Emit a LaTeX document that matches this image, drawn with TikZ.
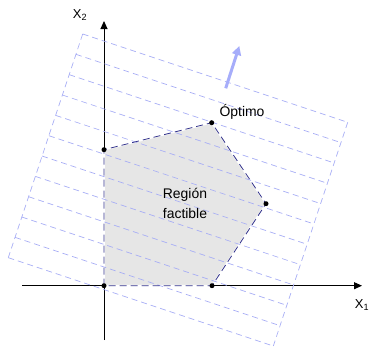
\documentclass[tikz,border=0pt]{standalone}
\usepackage{fontspec}
\setmainfont{Liberation Sans}
\usetikzlibrary{arrows.meta,positioning,calc}
\definecolor{EdgeBlue}{RGB}{51, 51, 140}
\definecolor{LevelBlue}{RGB}{168, 174, 245}
\definecolor{GainBlue}{RGB}{166, 173, 250}
\definecolor{RegionGray}{RGB}{230, 230, 230}

\begin{document}
\begin{tikzpicture}[
    x=1bp, y=-1bp,
    axis/.style={line width=1bp, -{Triangle[length=8bp, width=7bp]}},
    region/.style={fill=RegionGray, draw=white, line width=1.6bp},
    border/.style={draw=EdgeBlue, line width=0.8bp, dash pattern=on 7bp off 4bp},
    levelline/.style={draw=LevelBlue, line width=0.7bp, dash pattern=on 6bp off 4bp},
    vertex/.style={circle, fill=black, inner sep=0pt, minimum size=5bp},
    gain/.style={draw=GainBlue, line width=3bp, -{Triangle[length=9bp, width=9bp]}},
    lbl/.style={font=\fontsize{14}{20}\selectfont, inner sep=0pt, align=center}
  ]
    \useasboundingbox (0,0) rectangle (373,347);

    % axes
    \coordinate (xstart) at (22,285.7);
    \coordinate (xend) at (362,285.7);
    \coordinate (ystart) at (104,340);
    \coordinate (yend) at (104,21);
    \draw[axis] (xstart) -- (xend);
    \draw[axis] (ystart) -- (yend);

    % feasible region
    \coordinate (p1) at (104,285.7);
    \coordinate (p2) at (104,149.7);
    \coordinate (p3) at (211.7,122.7);
    \coordinate (p4) at (266,203.7);
    \coordinate (p5) at (212,285.7);
    \path[region] (p1) -- (p2) -- (p3) -- (p4) -- (p5) -- cycle;

    % level lines of the objective
    \coordinate (tl) at (82.7,34);
    \coordinate (tr) at (347.7,122.3);
    \coordinate (bl) at (8.3,257.7);
    \coordinate (br) at (273.3,346);
    \foreach \i in {0,...,11}
      \draw[levelline] ($(tl)!\i/11!(bl)$) -- ($(tr)!\i/11!(br)$);
    \draw[levelline] (tl) -- (bl);
    \draw[levelline] (tr) -- (br);

    \draw[border] (p1) -- (p2) -- (p3) -- (p4) -- (p5) -- cycle;
    \foreach \p in {p1,p2,p3,p4,p5}
      \node[vertex] (v\p) at (\p) {};

    % direction of improvement
    \coordinate (gfrom) at (225.7,88.3);
    \coordinate (gto) at (239.3,46);
    \draw[gain] (gfrom) -- (gto);

    % labels
    \node[lbl, font=\fontsize{13}{16}\selectfont] (x2) at (80,15) {X\textsubscript{2}};
    \node[lbl, font=\fontsize{13}{16}\selectfont] (x1) at (362,305) {X\textsubscript{1}};
    \node[lbl] (opt) at (242,112) {Óptimo};
    \node[lbl] (feas) at (185,203) {Región\\factible};
  \end{tikzpicture}
\end{document}
